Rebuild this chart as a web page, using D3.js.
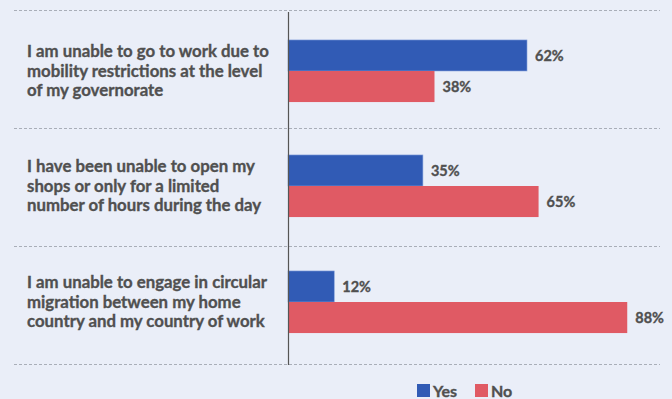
<!DOCTYPE html>
<html><head><meta charset="utf-8">
<script src="https://cdn.jsdelivr.net/npm/d3@7"></script>
<style>
html,body{margin:0;padding:0;background:#eaeef8;}
svg{display:block;}
text{font-family:"Lato","Open Sans",sans-serif;font-weight:700;fill:#505050;stroke:#505050;stroke-width:0.35px;}
</style></head><body>
<svg id="chart" width="672" height="399"></svg>
<script>
const categories = [
  ["I am unable to go to work due to","mobility restrictions at the level","of my governorate"],
  ["I have been unable to open my","shops or only for a limited","number of hours during the day"],
  ["I am unable to engage in circular","migration between my home","country and my country of work"]
];
const seriesNames = ["Yes","No"];
const yesValues = [62,35,12];
const noValues = [38,65,88];
const colors = ["#315bb5","#e05a64"];

const svg = d3.select("#chart");
const x0 = 288;
const x = d3.scaleLinear().domain([0,100]).range([x0, x0+385.5]);
const y = d3.scaleBand().domain(d3.range(categories.length)).range([10,364]);
const inner = d3.scaleBand().domain(seriesNames).range([0, y.bandwidth()]).paddingOuter(0.9).paddingInner(0);
const shift = [2,-1,-3];

const seps = d3.range(categories.length+1).map(i => i===categories.length ? 364 : y(i));
svg.selectAll("line.sep").data(seps).enter().append("line")
  .attr("x1",14).attr("x2",660).attr("y1",d=>d+0.5).attr("y2",d=>d+0.5)
  .attr("stroke","#a9aeb8").attr("stroke-width",1).attr("stroke-dasharray","3,2");

const data = categories.map((c,i)=>({i, vals:[yesValues[i], noValues[i]]}));
const g = svg.selectAll("g.cat").data(data).enter().append("g").attr("class","cat");

g.each(function(d){
  const gg = d3.select(this);
  seriesNames.forEach((s,k)=>{
    const v = d.vals[k];
    const yy = y(d.i) + inner(s) + shift[d.i];
    gg.append("rect").attr("x",x(0)).attr("y",yy).attr("width",x(v)-x(0)).attr("height",inner.bandwidth())
      .attr("fill",colors[k]).attr("stroke",k===0?"#8aa6dd":"none").attr("stroke-width",k===0?0.6:0);
    gg.append("text").attr("x",x(v)+8).attr("y",yy+inner.bandwidth()/2).attr("dy","0.36em")
      .style("font-size","14.5px").text(v+"%");
  });
  const lines = categories[d.i];
  const cy = y(d.i)+y.bandwidth()/2 + shift[d.i];
  const lh = 19.5;
  const t = gg.append("text").attr("x",27).style("font-size","16.8px");
  lines.forEach((l,j)=>{
    t.append("tspan").attr("x",27).attr("y",cy + (j-(lines.length-1)/2)*lh).attr("dy","0.35em").text(l);
  });
});

svg.append("line").attr("x1",x0+0.5).attr("x2",x0+0.5).attr("y1",12).attr("y2",365)
  .attr("stroke","#555").attr("stroke-width",1.2);

const leg = svg.append("g");
const legX = [417, 475];
seriesNames.forEach((s,k)=>{
  leg.append("rect").attr("x",legX[k]).attr("y",384).attr("width",13).attr("height",13).attr("fill",colors[k]);
  leg.append("text").attr("x",legX[k]+16).attr("y",391).attr("dy","0.36em").style("font-size","16px").text(s);
});
</script>
</body></html>
